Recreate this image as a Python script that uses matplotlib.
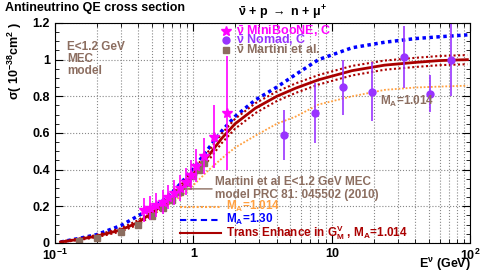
import matplotlib
matplotlib.use('Agg')
import matplotlib.pyplot as plt
from matplotlib.ticker import FixedLocator, NullFormatter

plt.rcParams['font.family'] = ['Liberation Sans', 'DejaVu Sans']
plt.rcParams['font.weight'] = 'bold'
plt.rcParams['mathtext.fontset'] = 'custom'
plt.rcParams['mathtext.rm'] = 'Liberation Sans:bold'
plt.rcParams['mathtext.it'] = 'Liberation Sans:bold'
plt.rcParams['mathtext.bf'] = 'Liberation Sans:bold'

# theory curves
E_curve = [0.11, 0.15, 0.2, 0.3, 0.4, 0.5, 0.65, 0.8, 1.0, 1.3, 1.6, 2.0, 2.8,
           4.0, 5.5, 8, 14, 24, 40, 60, 95]
sig_ma1014 = [0.005, 0.02, 0.037, 0.071, 0.11, 0.155, 0.205, 0.25, 0.315, 0.40,
              0.46, 0.52, 0.585, 0.65, 0.69, 0.755, 0.80, 0.835, 0.848, 0.853, 0.858]
sig_ma130 = [0.005, 0.025, 0.045, 0.095, 0.148, 0.19, 0.25, 0.32, 0.405, 0.52,
             0.61, 0.69, 0.78, 0.85, 0.92, 1.0, 1.065, 1.095, 1.115, 1.125, 1.135]
sig_te = [0.005, 0.02, 0.037, 0.071, 0.112, 0.163, 0.225, 0.29, 0.375, 0.48,
          0.57, 0.65, 0.735, 0.80, 0.845, 0.89, 0.94, 0.97, 0.985, 0.995, 1.0]
sig_te_hi = [0.007, 0.024, 0.043, 0.08, 0.124, 0.177, 0.242, 0.31, 0.398, 0.505,
             0.596, 0.677, 0.762, 0.826, 0.871, 0.916, 0.966, 0.995, 1.01, 1.02, 1.025]
sig_te_lo = [0.003, 0.016, 0.031, 0.062, 0.1, 0.149, 0.208, 0.27, 0.352, 0.455,
             0.544, 0.623, 0.708, 0.774, 0.819, 0.864, 0.914, 0.945, 0.96, 0.97, 0.975]

# MiniBooNE, C
E_mb = [0.44, 0.49, 0.54, 0.6, 0.66, 0.73, 0.8, 0.88, 0.96, 1.05, 1.2, 1.4, 1.75]
sig_mb = [0.18, 0.19, 0.205, 0.225, 0.25, 0.275, 0.30, 0.335, 0.37, 0.42, 0.475, 0.58, 0.71]
err_mb = [0.065, 0.065, 0.065, 0.065, 0.065, 0.07, 0.07, 0.075, 0.08, 0.09, 0.1, 0.17, 0.31]

# Nomad, C
E_nomad = [4.5, 7.6, 12, 19.6, 33, 51, 72]
sig_nomad = [0.59, 0.71, 0.85, 0.825, 1.015, 0.815, 1.0]
err_nomad = [0.135, 0.165, 0.15, 0.16, 0.17, 0.10, 0.20]

# Martini et al.
E_martini = [0.15, 0.2, 0.3, 0.4, 0.5, 0.6, 0.7, 0.8, 0.9, 1.0, 1.1, 1.2]
sig_martini = [0.01, 0.027, 0.06, 0.10, 0.145, 0.19, 0.235, 0.28, 0.325, 0.365, 0.40, 0.437]

y_ticks = [0, 0.2, 0.4, 0.6, 0.8, 1.0, 1.2]
y_ticklabels = ['0', '0.2', '0.4', '0.6', '0.8', '1', '1.2']
x_ticks = [0.1, 1, 10, 100]
x_ticklabels = [r'10$^{-1}$', '1', '10', r'10$^{2}$']

brown = '#8c6e60'
magenta = '#ff00ff'
purple = '#9933ff'
orange = '#ffa040'
blue = '#0000ff'
darkred = '#aa0000'

fig = plt.figure(figsize=(4.85, 2.77), dpi=100)
ax = fig.add_axes([0.113, 0.123, 0.857, 0.794])

ax.plot(E_curve, sig_ma1014, color=orange, lw=1.3, ls=(0, (1, 1)))
ax.plot(E_curve, sig_ma130, color=blue, lw=2.5, ls=(0, (1, 1)))
ax.plot(E_curve, sig_te_hi, color=darkred, lw=1.5, ls=(0, (1, 1.2)))
ax.plot(E_curve, sig_te_lo, color=darkred, lw=1.5, ls=(0, (1, 1.2)))
ax.plot(E_curve, sig_te, color=darkred, lw=2)

ax.plot(E_martini, sig_martini, 's', color=brown, ms=5)
ax.errorbar(E_mb, sig_mb, yerr=err_mb, fmt='*', color=magenta, ms=7, lw=1.2, capsize=0)
ax.errorbar(E_nomad, sig_nomad, yerr=err_nomad, fmt='o', color=purple, ms=5, lw=1.2, capsize=0)

ax.set_xscale('log')
ax.set_xlim(0.1, 100)
ax.set_ylim(0, 1.2)
ax.xaxis.set_major_locator(FixedLocator(x_ticks))
ax.set_xticklabels(x_ticklabels)
ax.xaxis.set_minor_formatter(NullFormatter())
ax.set_yticks(y_ticks)
ax.set_yticklabels(y_ticklabels)
ax.set_yticks([i * 0.05 for i in range(25)], minor=True)
ax.tick_params(which='both', direction='in', top=True, right=True, labelsize=9)
ax.tick_params(which='major', length=6)
ax.tick_params(which='minor', length=3)
ax.grid(True, which='major', color='#888888', ls=':', lw=0.8)
ax.grid(True, which='minor', axis='x', color='#888888', ls=':', lw=0.8)

fig.text(0.01, 0.97, 'Antineutrino QE cross section', fontsize=9, va='center')
fig.text(0.49, 0.955, r'$\bar{\nu}$ + p $\rightarrow$ n + $\mu^{+}$', fontsize=9, va='center')
fig.text(0.03, 0.78, r'$\sigma$( 10$^{-38}$cm$^{2}$ )', fontsize=9, rotation=90,
         ha='center', va='center')
fig.text(0.97, 0.045, r'E$^{\nu}$ (GeV)', fontsize=9, ha='right', va='center')

# top legend
leg_labels = [r'$\bar{\nu}$ MiniBooNE, C', r'$\bar{\nu}$ Nomad, C', r'$\bar{\nu}$ Martini et al.']
leg_colors = [magenta, purple, brown]
leg_markers = ['*', 'o', 's']
for i in range(3):
    yy = 0.888 - i * 0.034
    fig.lines.append(plt.Line2D([0.466], [yy], marker=leg_markers[i], color=leg_colors[i],
                                ms=7 if i == 0 else 5, transform=fig.transFigure))
    fig.text(0.487, yy, leg_labels[i], color=leg_colors[i], fontsize=9, va='center')

fig.text(0.138, 0.787, 'E<1.2 GeV\nMEC\nmodel', color=brown, fontsize=8.5, va='center',
         linespacing=1.05)
fig.text(0.783, 0.632, r'M$_A$=1.014', color=brown, fontsize=8.5, va='center')

ax.annotate('Martini et al E<1.2 GeV MEC\nmodel PRC 81: 045502 (2010)',
            xy=(0.86, 0.295), xytext=(0.443, 0.318), textcoords='figure fraction',
            color=brown, fontsize=8.5, va='center', linespacing=1.1,
            arrowprops=dict(arrowstyle='-', color=brown, lw=1, shrinkA=0, shrinkB=0,
                            relpos=(0, 0.5)))

# bottom legend
bl_labels = [r'M$_A$=1.014', r'M$_A$=1.30', r'Trans Enhance in G$_M^V$ , M$_A$=1.014']
bl_colors = [orange, blue, darkred]
bl_styles = [(0, (1, 1)), (0, (3, 2)), '-']
for i in range(3):
    yy = 0.253 - i * 0.047
    fig.lines.append(plt.Line2D([0.371, 0.456], [yy, yy], color=bl_colors[i], ls=bl_styles[i],
                                lw=1.5, transform=fig.transFigure))
    fig.text(0.466, yy, bl_labels[i], color=bl_colors[i], fontsize=8.5, va='center')

fig.savefig('out.png', dpi=100)
